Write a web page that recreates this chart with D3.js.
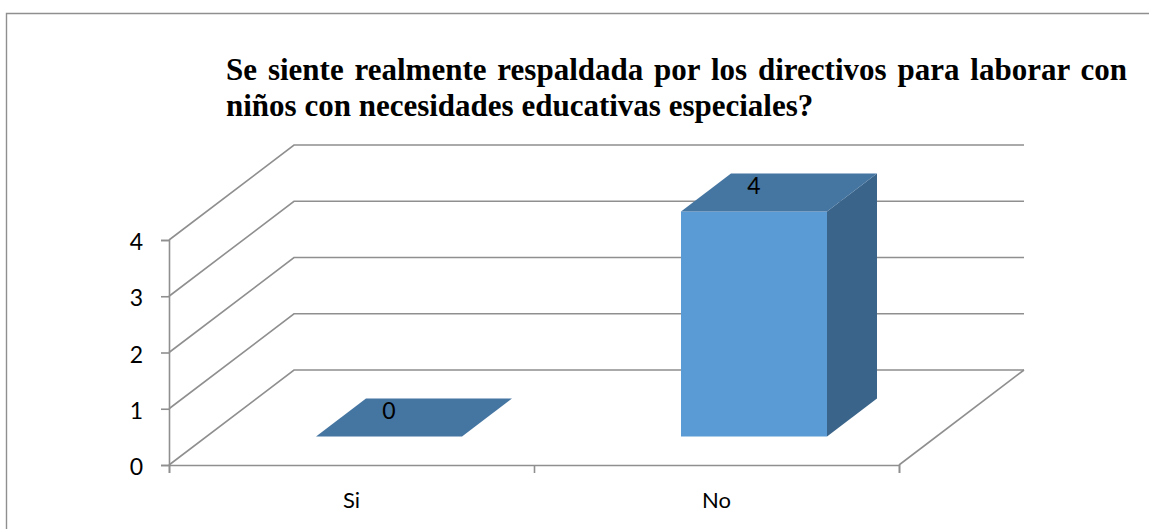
<!DOCTYPE html>
<html>
<head>
<meta charset="utf-8">
<script src="https://cdn.jsdelivr.net/npm/d3@7"></script>
<style>
  html, body { margin: 0; padding: 0; background: #fff; overflow: hidden; }
  .tick text { font-family: Lato, sans-serif; fill: #000; }
</style>
</head>
<body>
<div id="chart"></div>
<script>
// data
const categories = ["Si", "No"];
const values = [0, 4];
const yTicks = [0, 1, 2, 3, 4];
const titleLines = [
  "Se siente realmente respaldada por los directivos para laborar con",
  "niños con necesidades educativas especiales?"
];

const w = 1149, h = 529;
const gray = "#8f8f8f";

let svg = d3.select("#chart").append("svg")
  .attr("width", w)
  .attr("height", h)
  .attr("viewBox", "0 0 " + w + " " + h);

// outer frame, open on the right and at the bottom
svg.append("path")
  .attr("d", d3.line()([[6.5, h], [6.5, 13.5], [w, 13.5]]))
  .attr("fill", "none")
  .attr("stroke", gray)
  .attr("stroke-width", 1.4);

// title
let titleGrp = svg.append("g");
titleLines.forEach(function (line, i) {
  titleGrp.append("text")
    .attr("x", 226)
    .attr("y", 79.5 + i * 36.5)
    .attr("class", "title-line")
    .style("font-family", "'Liberation Serif', serif")
    .style("font-weight", "bold")
    .style("font-size", "31px")
    .style("fill", "#000")
    .text(line);
});
// first line is justified up to the right margin
let firstLine = titleGrp.select("text").node();
let spaces = titleLines[0].split(" ").length - 1;
d3.select(firstLine).style("word-spacing", ((1127 - 226 - firstLine.getComputedTextLength()) / spaces) + "px");

// scales
let xBand = d3.scaleBand().domain(categories).range([169, 899]).paddingInner(0.6).paddingOuter(0.3);
let y = d3.scaleLinear().domain([0, 4]).range([465, 240]);
let depthX = d3.scaleLinear().domain([0, 1]).range([0, 125]);
let depthY = d3.scaleLinear().domain([0, 1]).range([0, -95]);

// 3d projection: px value + depth fraction
let project = (x, v, d) => [x + depthX(d), y(v) + depthY(d)];
let line = d3.line();

// walls and floor
let wallGrp = svg.append("g")
  .attr("fill", "none")
  .attr("stroke", gray)
  .attr("stroke-width", 1.6);
yTicks.forEach(function (t) {
  wallGrp.append("path").attr("d", line([
    project(169, t, 0),
    project(169, t, 1),
    project(899, t, 1)
  ]));
});
wallGrp.append("path").attr("d", line([
  project(899, 0, 1),
  project(899, 0, 0)
]));

// bars
let front = 0.3, back = 0.7;
let barGrp = svg.append("g").selectAll("g").data(values).join("g");
barGrp.each(function (v, i) {
  let g = d3.select(this);
  let x0 = xBand(categories[i]);
  let x1 = x0 + xBand.bandwidth();
  if (v > 0) {
    g.append("path")
      .attr("d", line([project(x0, 0, front), project(x1, 0, front), project(x1, v, front), project(x0, v, front)]) + "Z")
      .attr("fill", "#5b9bd5");
    g.append("path")
      .attr("d", line([project(x1, 0, front), project(x1, 0, back), project(x1, v, back), project(x1, v, front)]) + "Z")
      .attr("fill", "#3a6489");
  }
  g.append("path")
    .attr("d", line([project(x0, v, front), project(x1, v, front), project(x1, v, back), project(x0, v, back)]) + "Z")
    .attr("fill", "#4575a1");
  // value label
  g.append("text")
    .attr("x", project(x0 + xBand.bandwidth() / 2, v, front)[0])
    .attr("y", y(v) + depthY(0.5) + 1)
    .attr("text-anchor", "middle")
    .style("font-family", "Lato, sans-serif")
    .style("font-size", "23px")
    .style("fill", "#000")
    .text(v);
});

// y axis
let yAxis = svg.append("g")
  .attr("transform", "translate(169,0)")
  .call(d3.axisLeft(y).tickValues(yTicks).tickFormat(d3.format("d")).tickSize(8).tickPadding(18));
yAxis.selectAll(".tick text").style("font-size", "23px").attr("dy", "0.42em");
yAxis.selectAll("path, line").attr("stroke", gray).attr("stroke-width", 1.6);

// x axis, ticks sit on the category boundaries
let xEdges = d3.scaleLinear().domain([0, categories.length]).range([169, 899]);
let xAxis = svg.append("g")
  .attr("transform", "translate(0,465)")
  .call(d3.axisBottom(xEdges).tickValues(d3.range(categories.length + 1)).tickFormat("").tickSize(8));
xAxis.selectAll("path, line").attr("stroke", gray).attr("stroke-width", 1.6);

svg.append("g").selectAll("text").data(categories).join("text")
  .attr("x", d => xBand(d) + xBand.bandwidth() / 2)
  .attr("y", 508)
  .style("font-family", "Lato, sans-serif")
  .style("font-size", "22px")
  .style("fill", "#000")
  .attr("text-anchor", "middle")
  .text(d => d);
</script>
</body>
</html>
